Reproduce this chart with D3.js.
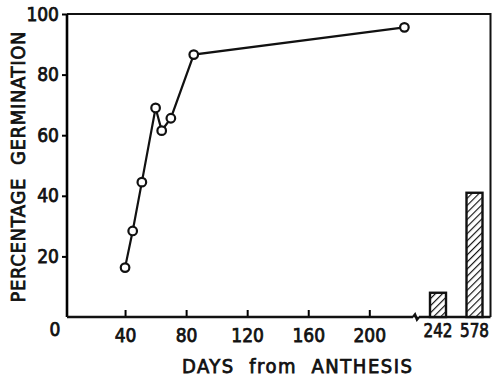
<!DOCTYPE html>
<html>
<head>
<meta charset="utf-8">
<script src="https://cdn.jsdelivr.net/npm/d3@7"></script>
<style>
  body { margin: 0; background: #fff; }
  text { font-family: "DejaVu Sans", sans-serif; font-stretch: condensed; fill: #111; stroke: #111; stroke-width: 0.75px; }
</style>
</head>
<body>
<div id="chart"></div>
<script>
// germination vs days from anthesis
const days = [40, 45, 51, 60, 64, 70, 85, 223];
const germination = [16.3, 28.4, 44.5, 69, 61.5, 65.6, 86.6, 95.6];
const barDays = ["242", "578"];
const barValues = [8, 41];
const xTicks = [40, 80, 120, 160, 200];
const yTicks = [20, 40, 60, 80, 100];

const W = 492, H = 381;
const plotL = 67, plotR = 490.5, plotT = 14, plotB = 317;
const font = "DejaVu Sans, sans-serif";

const svg = d3.select("#chart").append("svg")
    .attr("width", W)
    .attr("height", H);

const x = d3.scaleLinear().domain([0, 200]).range([64, 369.3]);
const y = d3.scaleLinear().domain([0, 100]).range([plotB, plotT]);
const xb = d3.scalePoint().domain(barDays).range([438, 474.5]);
const barW = 16;

// hatch pattern for bars
const defs = svg.append("defs");
const pat = defs.append("pattern")
    .attr("id", "hatch")
    .attr("patternUnits", "userSpaceOnUse")
    .attr("width", 5)
    .attr("height", 5)
    .attr("patternTransform", "rotate(45)");
pat.append("rect").attr("width", 5).attr("height", 5).attr("fill", "#fff");
pat.append("line")
    .attr("x1", 0).attr("y1", 0).attr("x2", 0).attr("y2", 5)
    .attr("stroke", "#111").attr("stroke-width", 2.3);

// frame top + right
svg.append("path")
    .attr("d", `M${plotL},${plotT}H${plotR}V${plotB}`)
    .attr("fill", "none")
    .attr("stroke", "#111")
    .attr("stroke-width", 2);

// y axis
const yAxis = svg.append("g")
    .attr("transform", `translate(${plotL},0)`)
    .call(d3.axisLeft(y).tickValues(yTicks).tickSize(5).tickPadding(3));
yAxis.select(".domain").attr("stroke-width", 2.6).attr("d", `M0,${plotT}V${plotB}`);
yAxis.selectAll(".tick line").attr("stroke-width", 2);
yAxis.selectAll("text")
    .attr("font-size", 19)
    .attr("font-family", font)
    .attr("fill", "#111");

// x axis (ticks point up into plot)
const xAxis = svg.append("g")
    .attr("transform", `translate(0,${plotB})`)
    .call(d3.axisBottom(x).tickValues(xTicks).tickSize(-7).tickPadding(12));
xAxis.select(".domain").remove();
xAxis.selectAll(".tick line").attr("stroke-width", 2);
xAxis.selectAll("text")
    .attr("font-size", 19)
    .attr("font-family", font)
    .attr("fill", "#111");

// baseline with break
svg.append("path")
    .attr("d", `M${plotL},${plotB}H413 M413,${plotB} l2,-2.5 l2,5 l2,-2.5 M419,${plotB}H${plotR}`)
    .attr("fill", "none")
    .attr("stroke", "#111")
    .attr("stroke-width", 2.6);

// origin label
svg.append("text")
    .attr("x", 55).attr("y", 336)
    .attr("text-anchor", "middle")
    .attr("font-size", 19)
    .attr("font-family", font)
    .text("0");

// bar category labels
svg.selectAll(".blabel")
    .data(barDays)
    .enter().append("text")
    .attr("class", "blabel")
    .attr("x", d => xb(d))
    .attr("y", 337)
    .attr("text-anchor", "middle")
    .attr("font-size", 19)
    .attr("font-family", font)
    .attr("textLength", 29)
    .attr("lengthAdjust", "spacingAndGlyphs")
    .text(d => d);

// bars
svg.selectAll(".bar")
    .data(barDays)
    .enter().append("rect")
    .attr("class", "bar")
    .attr("x", d => xb(d) - barW / 2)
    .attr("y", (d, i) => y(barValues[i]))
    .attr("width", barW)
    .attr("height", (d, i) => plotB - y(barValues[i]))
    .attr("fill", "url(#hatch)")
    .attr("stroke", "#111")
    .attr("stroke-width", 2.4);

// line + points
const pts = days.map((d, i) => [d, germination[i]]);
svg.append("path")
    .datum(pts)
    .attr("d", d3.line().x(d => x(d[0])).y(d => y(d[1])))
    .attr("fill", "none")
    .attr("stroke", "#111")
    .attr("stroke-width", 2.2);

svg.selectAll(".pt")
    .data(pts)
    .enter().append("circle")
    .attr("class", "pt")
    .attr("cx", d => x(d[0]))
    .attr("cy", d => y(d[1]))
    .attr("r", 4.3)
    .attr("fill", "#fff")
    .attr("stroke", "#111")
    .attr("stroke-width", 2.2);

// axis titles
svg.append("text")
    .attr("x", 297).attr("y", 373)
    .attr("text-anchor", "middle")
    .attr("font-size", 20)
    .attr("font-family", font)
    .attr("textLength", 230)
    .style("white-space", "pre")
    .text("DAYS  from  ANTHESIS");

svg.append("text")
    .attr("transform", "translate(25,167) rotate(-90)")
    .attr("text-anchor", "middle")
    .attr("font-size", 20)
    .attr("font-family", font)
    .attr("textLength", 271)
    .style("white-space", "pre")
    .text("PERCENTAGE  GERMINATION");
</script>
</body>
</html>
